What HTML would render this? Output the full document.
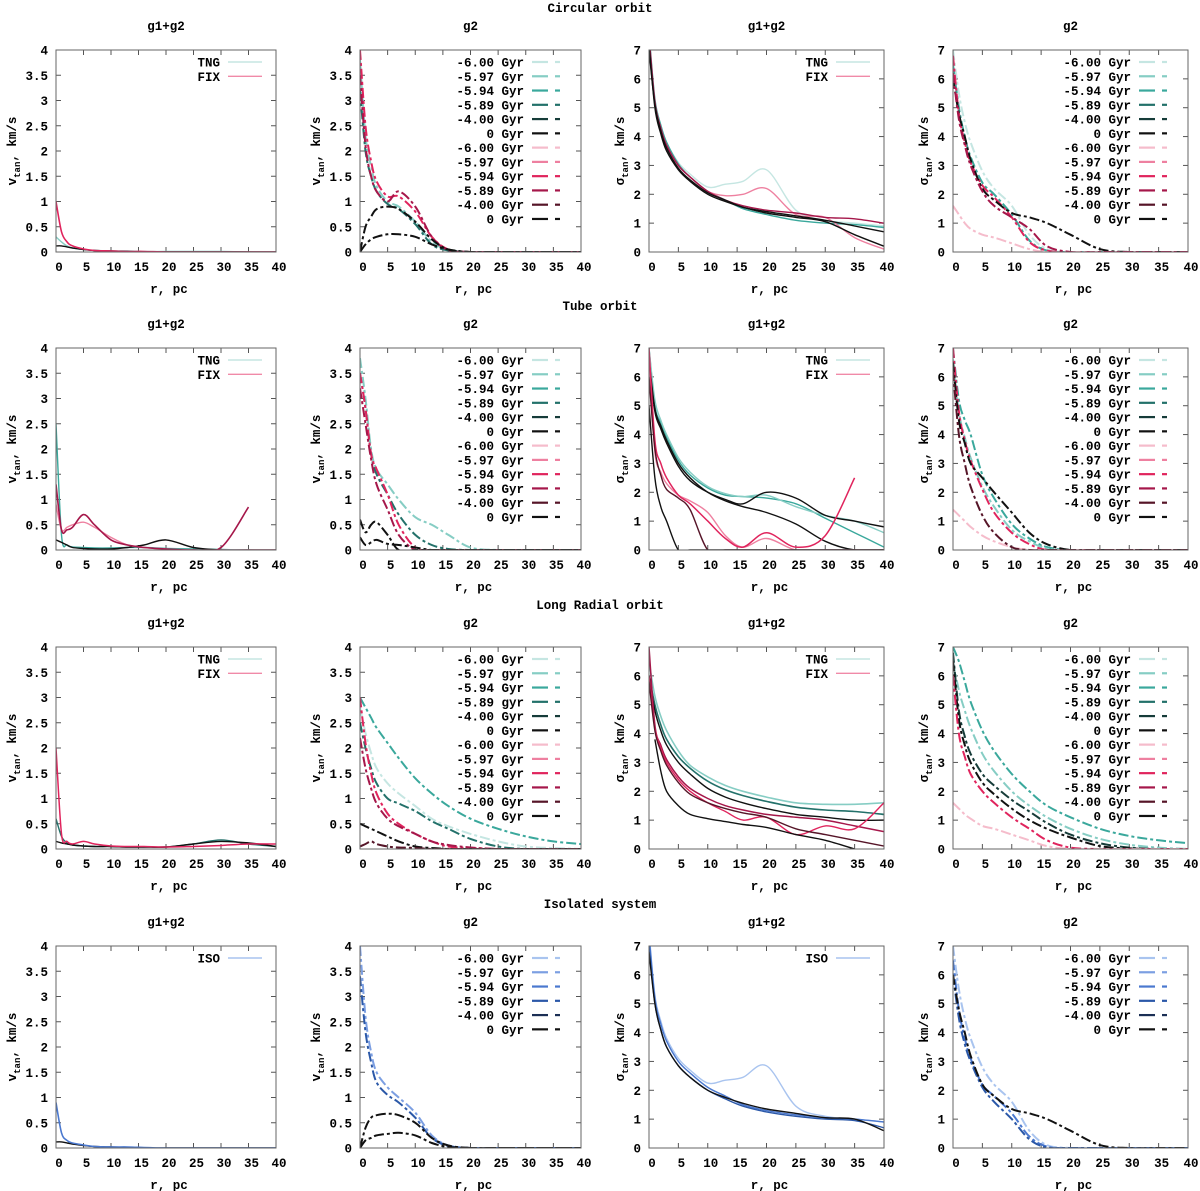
<!DOCTYPE html>
<html><head><meta charset="utf-8"><style>
html,body{margin:0;padding:0;background:#fff}
svg{display:block}
text{font-family:"Liberation Mono","DejaVu Sans Mono",monospace;font-weight:bold;font-size:12.5px;fill:#000}
</style></head><body>
<svg id="fig" width="1200" height="1191" viewBox="0 0 1200 1191" xmlns="http://www.w3.org/2000/svg"></svg>
<script>
// shared radius grid (pc)
const R=[0,1,2,3,5,7,10,13,16,20,25,30,35,40];
const xTicks=[0,5,10,15,20,25,30,35,40];
const vTicks=[0,0.5,1,1.5,2,2.5,3,3.5,4];
const sTicks=[0,1,2,3,4,5,6,7];
const rowTitles=["Circular orbit","Tube orbit","Long Radial orbit","Isolated system"];
const gyrLabels=["-6.00 Gyr","-5.97 Gyr","-5.94 Gyr","-5.89 Gyr","-4.00 Gyr","0 Gyr"];
const gyrLabelsLR=["-6.00 Gyr","-5.97 gyr","-5.94 Gyr","-5.89 gyr","-4.00 Gyr","0 Gyr"];
// ---- Row 1 circular
const c1_fix=[1.0,0.4,0.2,0.12,0.06,0.03,0.02,0.01,0.01,0,0,0,0,0];
const c1_tng=[0.3,0.2,0.12,0.08,0.05,0.03,0.02,0.02,0.01,0.01,0.01,0.01,0,0];
const c1_blk=[0.12,0.12,0.1,0.08,0.05,0.03,0.02,0.01,0,0,0,0,0,0];
const c2_t1=[3.8,2.3,1.7,1.3,1.0,0.9,0.6,0.2,0.05,0,0,0,0,0];
const c2_t2=[3.2,2.0,1.5,1.2,0.95,0.85,0.55,0.15,0.03,0,0,0,0,0];
const c2_p1=[4.0,2.5,1.8,1.4,1.1,1.1,0.8,0.3,0.05,0,0,0,0,0];
const c2_p2=[3.5,2.1,1.5,1.2,1.0,1.2,0.9,0.3,0.04,0,0,0,0,0];
const c2_k1=[0,0.5,0.7,0.85,0.9,0.85,0.6,0.25,0.05,0,0,0,0,0];
const c2_k2=[0,0.15,0.25,0.3,0.35,0.35,0.3,0.15,0.05,0,0,0,0,0];
const c3_t1=[7.5,5.3,4.4,3.8,3.1,2.7,2.25,2.35,2.45,2.85,1.45,1.1,1.0,0.9];
const c3_t2=[7.6,5.3,4.4,3.8,3.05,2.6,2.1,1.8,1.5,1.3,1.1,1.0,0.95,0.85];
const c3_p1=[7.4,5.2,4.3,3.7,3.0,2.6,2.1,1.95,2.0,2.2,1.3,1.2,0.5,0.1];
const c3_p2=[7.5,5.2,4.3,3.7,3.0,2.6,2.1,1.8,1.6,1.45,1.35,1.2,1.15,1.0];
const c3_k1=[7.2,5.0,4.1,3.5,2.85,2.45,2.0,1.75,1.55,1.35,1.2,1.05,0.6,0.2];
const c3_k2=[7.0,5.1,4.2,3.6,2.9,2.5,2.05,1.8,1.55,1.4,1.25,1.1,0.9,0.7];
const c4_t1=[7.0,5.5,4.5,3.8,2.8,2.2,1.6,0.6,0.1,0,0,0,0,0];
const c4_t2=[6.5,5.0,4.0,3.3,2.4,2.0,1.3,0.4,0.05,0,0,0,0,0];
const c4_p1=[6.8,4.8,3.8,3.1,2.3,1.9,1.2,0.35,0.05,0,0,0,0,0];
const c4_p2=[1.6,1.3,1.0,0.8,0.6,0.5,0.3,0.1,0,0,0,0,0,0];
const c4_k1=[6.0,4.8,4.0,3.2,2.2,1.8,1.35,1.2,1.0,0.6,0.1,0,0,0];
const c4_k2=[6.2,4.6,3.7,3.0,2.1,1.6,1.2,0.8,0.2,0,0,0,0,0];
// ---- Row 2 tube
const t1_fix=[1.3,0.4,0.4,0.45,0.7,0.5,0.2,0.1,0.05,0.02,0,0.05,0.85,null];
const t1_fix2=[0.9,0.4,0.45,0.5,0.55,0.45,0.25,0.1,0.05,0.02,0,0,0,0];
const t1_tng=[2.5,0.3,0.1,0.06,0.05,0.04,0.04,0.05,0.05,0.03,0.02,0.01,0,0];
const t1_blk=[0.2,0.15,0.1,0.05,0.03,0.02,0.02,0.05,0.1,0.2,0.05,0,0,0];
const t2_t1=[3.8,3.0,2.0,1.6,1.3,1.0,0.65,0.5,0.3,0.05,0,0,0,0];
const t2_t2=[3.5,2.8,1.9,1.5,1.1,0.7,0.3,0.1,0.02,0,0,0,0,0];
const t2_p1=[3.5,2.8,1.9,1.6,1.1,0.5,0.05,0,0,0,0,0,0,0];
const t2_p2=[3.2,2.5,1.8,1.3,0.8,0.3,0,0,0,0,0,0,0,0];
const t2_k1=[0.6,0.35,0.5,0.55,0.3,0,0,0,0,0,0,0,0,0];
const t2_k2=[0.25,0.1,0.15,0.2,0.12,0.1,0.05,0,0,0,0,0,0,0];
const t3_t1=[7.0,5.0,4.4,3.9,3.1,2.6,2.15,1.9,1.85,1.8,1.6,1.1,0.6,0.1];
const t3_t2=[7.0,5.2,4.5,4.0,3.2,2.7,2.2,1.95,1.85,1.9,1.5,1.2,1.0,0.6];
const t3_k1=[6.5,4.8,4.2,3.7,2.9,2.4,2.0,1.75,1.6,2.0,1.8,1.2,1.0,0.8];
const t3_k2=[6.6,4.9,4.3,3.8,3.0,2.5,2.0,1.7,1.5,1.3,0.9,0.3,0,0];
const t3_p1=[7.0,3.8,3.0,2.5,1.9,1.6,1.0,0.4,0.1,0.6,0.1,0.5,2.5,null];
const t3_p2=[6.5,3.4,2.7,2.3,1.9,1.7,1.3,0.5,0.1,0.4,0,0,0,0];
const t3_d1=[6.0,3.5,2.6,2.1,1.8,1.4,0,0,0,0,0,0,0,0];
const t3_k3=[5.0,2.5,1.5,1.0,0,0,0,0,0,0,0,0,0,0];
const t4_t1=[7.0,5.2,4.5,4.0,2.6,1.8,0.9,0.4,0.1,0,0,0,0,0];
const t4_t2=[6.6,4.8,3.9,3.2,2.2,1.5,0.7,0.3,0.05,0,0,0,0,0];
const t4_p1=[7.0,4.8,3.8,3.1,2.1,1.3,0.6,0.2,0,0,0,0,0,0];
const t4_p2=[1.4,1.2,1.0,0.8,0.5,0.3,0.1,0,0,0,0,0,0,0];
const t4_k1=[6.5,4.5,3.7,3.0,2.5,2.0,1.3,0.6,0.2,0,0,0,0,0];
const t4_k2=[6.2,4.0,3.0,2.2,1.2,0.6,0.1,0,0,0,0,0,0,0];
// ---- Row 3 long radial
const l1_fix=[2.0,0.3,0.15,0.1,0.15,0.1,0.06,0.05,0.05,0.04,0.05,0.07,0.1,0.1];
const l1_tng=[0.6,0.25,0.12,0.08,0.06,0.05,0.05,0.04,0.04,0.04,0.1,0.18,0.1,0.05];
const l1_blk=[0.15,0.12,0.1,0.08,0.06,0.05,0.05,0.04,0.04,0.04,0.1,0.15,0.12,0.05];
const l2_t1=[3.0,2.8,2.6,2.4,2.1,1.8,1.4,1.1,0.85,0.6,0.4,0.25,0.15,0.1];
const l2_t2=[2.8,2.3,1.9,1.6,1.3,1.1,0.85,0.6,0.45,0.3,0.15,0.05,0.02,0];
const l2_t3=[2.5,2.0,1.6,1.3,1.0,0.9,0.75,0.55,0.4,0.2,0.05,0,0,0];
const l2_p1=[3.0,2.1,1.5,1.1,0.7,0.5,0.3,0.15,0.05,0.02,0,0,0,0];
const l2_p2=[2.2,1.6,1.2,0.9,0.6,0.45,0.3,0.15,0.08,0.03,0,0,0,0];
const l2_k1=[0.5,0.45,0.4,0.35,0.25,0.15,0.05,0.02,0,0,0,0,0,0];
const l2_k2=[0.05,0.1,0.15,0.1,0.05,0.03,0.02,0,0,0,0,0,0,0];
const l3_t1=[6.5,5.3,4.6,4.1,3.4,2.9,2.5,2.2,2.0,1.8,1.6,1.55,1.55,1.6];
const l3_t2=[6.0,5.0,4.3,3.8,3.2,2.8,2.35,2.05,1.85,1.65,1.45,1.35,1.3,1.2];
const l3_k1=[6.0,4.8,4.1,3.6,3.0,2.6,2.1,1.8,1.6,1.4,1.2,1.1,1.0,1.0];
const l3_p1=[7.0,4.3,3.6,3.1,2.5,2.1,1.75,1.5,1.35,1.2,1.1,1.0,0.8,0.6];
const l3_p2=[6.0,4.2,3.5,3.0,2.4,2.0,1.6,1.3,1.0,1.1,0.5,0.8,0.7,1.6];
const l3_d1=[5.8,4.1,3.4,2.9,2.3,1.9,1.6,1.4,1.25,1.1,0.7,0.5,0.3,0.1];
const l3_k2=[null,3.8,2.7,2.0,1.5,1.2,1.05,0.95,0.85,0.75,0.5,0.3,0,null];
const l4_t1=[7.0,6.5,5.8,5.1,4.1,3.4,2.6,2.0,1.5,1.1,0.7,0.45,0.3,0.2];
const l4_t2=[6.5,5.5,4.8,4.2,3.3,2.7,2.0,1.5,1.1,0.7,0.35,0.15,0.05,0];
const l4_k1=[6.5,4.5,3.6,3.0,2.3,1.9,1.4,1.0,0.7,0.4,0.1,0.02,0,0];
const l4_p1=[6.0,4.0,3.2,2.6,2.0,1.6,1.1,0.7,0.3,0.05,0,0,0,0];
const l4_p2=[1.6,1.4,1.2,1.05,0.8,0.7,0.5,0.3,0.1,0,0,0,0,0];
const l4_k2=[6.8,4.8,3.9,3.3,2.6,2.2,1.7,1.3,0.9,0.5,0.2,0.05,0,0];
// ---- Row 4 isolated
const i1_iso=[0.9,0.3,0.15,0.1,0.06,0.03,0.02,0.02,0.01,0,0,0,0,0];
const i1_blk=[0.12,0.12,0.1,0.08,0.05,0.03,0.02,0.01,0,0,0,0,0,0];
const i2_b1=[4.0,2.6,1.9,1.5,1.2,1.0,0.7,0.25,0.05,0,0,0,0,0];
const i2_b2=[3.4,2.3,1.7,1.3,1.05,0.9,0.6,0.2,0.04,0,0,0,0,0];
const i2_k1=[0,0.4,0.6,0.65,0.68,0.65,0.5,0.2,0.05,0,0,0,0,0];
const i2_k2=[0,0.15,0.2,0.25,0.28,0.3,0.25,0.1,0.02,0,0,0,0,0];
const i3_b1=[7.5,5.3,4.4,3.8,3.1,2.7,2.25,2.35,2.45,2.85,1.45,1.1,1.0,0.9];
const i3_b2=[7.4,5.2,4.3,3.7,3.0,2.6,2.1,1.8,1.5,1.3,1.15,1.05,1.0,0.9];
const i3_b3=[7.0,5.0,4.1,3.5,2.85,2.45,2.0,1.7,1.45,1.25,1.1,1.0,0.95,0.7];
const i3_k1=[6.8,5.0,4.1,3.5,2.85,2.45,2.0,1.75,1.55,1.35,1.2,1.05,1.0,0.6];
const i4_b1=[7.0,5.5,4.5,3.8,2.8,2.2,1.6,0.6,0.1,0,0,0,0,0];
const i4_b2=[6.5,4.8,3.8,3.1,2.2,1.8,1.2,0.4,0.05,0,0,0,0,0];
const i4_b3=[6.0,4.5,3.6,3.0,2.1,1.6,1.0,0.3,0.02,0,0,0,0,0];
const i4_k1=[6.0,4.8,4.0,3.2,2.2,1.8,1.35,1.2,1.0,0.6,0.1,0,0,0];

const TEAL=['#c5e6e2','#86cdc4','#3aa89c','#23716a','#163c39','#111'];
const PINK=['#f5bccb','#ee80a0','#e0245d','#a5174a','#561528','#111'];
const BLUE=['#a9c4ef','#7c9fe2','#4a78cf','#2b58a8','#1b2f55','#111'];
const DD='10,3,3,3';
const colX=[[56,276],[360,581],[649,884],[953,1188]];
const rowY=[50,348,647,946];
const PH=202;
const svg=document.getElementById('fig');
const NS='http://www.w3.org/2000/svg';
function mk(tag,attrs,parent){const e=document.createElementNS(NS,tag);for(const k in attrs)e.setAttribute(k,attrs[k]);(parent||svg).appendChild(e);return e;}

const panels=[
 {row:0,col:0,ymax:4,ylab:'v',title:'g1+g2',legend:'tngfix',series:[
  [c1_tng,TEAL[1],null,1.4],[c1_blk,'#111',null,1.4],[c1_fix,PINK[2],null,1.6]]},
 {row:0,col:1,ymax:4,ylab:'v',title:'g2',legend:'gyr12',series:[
  [c2_t1,TEAL[1],DD,2],[c2_t2,TEAL[3],DD,2],[c2_p1,PINK[2],DD,2],[c2_p2,PINK[3],DD,2],[c2_k1,'#111',DD,2],[c2_k2,'#111',DD,2]]},
 {row:0,col:2,ymax:7,ylab:'s',title:'g1+g2',legend:'tngfix',series:[
  [c3_t1,TEAL[0],null,1.4],[c3_t2,TEAL[2],null,1.4],[c3_p1,PINK[1],null,1.4],[c3_p2,PINK[3],null,1.4],[c3_k1,'#111',null,1.4],[c3_k2,'#111',null,1.4]]},
 {row:0,col:3,ymax:7,ylab:'s',title:'g2',legend:'gyr12',series:[
  [c4_t1,TEAL[0],DD,2],[c4_t2,TEAL[2],DD,2],[c4_p1,PINK[2],DD,2],[c4_p2,PINK[0],DD,2],[c4_k1,'#111',DD,2],[c4_k2,PINK[3],DD,2]]},
 {row:1,col:0,ymax:4,ylab:'v',title:'g1+g2',legend:'tngfix',series:[
  [t1_tng,TEAL[2],null,1.4],[t1_blk,'#111',null,1.4],[t1_fix2,PINK[1],null,1.4],[t1_fix,PINK[3],null,1.6]]},
 {row:1,col:1,ymax:4,ylab:'v',title:'g2',legend:'gyr12',series:[
  [t2_t1,TEAL[1],DD,2],[t2_t2,TEAL[3],DD,2],[t2_p1,PINK[2],DD,2],[t2_p2,PINK[3],DD,2],[t2_k1,'#111',DD,2],[t2_k2,'#111',DD,2]]},
 {row:1,col:2,ymax:7,ylab:'s',title:'g1+g2',legend:'tngfix',series:[
  [t3_t1,TEAL[2],null,1.4],[t3_t2,TEAL[1],null,1.4],[t3_k1,'#111',null,1.4],[t3_k2,'#111',null,1.4],[t3_p2,PINK[1],null,1.4],[t3_p1,PINK[2],null,1.5],[t3_d1,PINK[4],null,1.4],[t3_k3,'#111',null,1.4]]},
 {row:1,col:3,ymax:7,ylab:'s',title:'g2',legend:'gyr12',series:[
  [t4_t1,TEAL[2],DD,2],[t4_t2,TEAL[1],DD,2],[t4_p1,PINK[2],DD,2],[t4_p2,PINK[0],DD,2],[t4_k1,'#111',DD,2],[t4_k2,PINK[4],DD,2]]},
 {row:2,col:0,ymax:4,ylab:'v',title:'g1+g2',legend:'tngfix',series:[
  [l1_tng,TEAL[3],null,1.4],[l1_blk,'#111',null,1.4],[l1_fix,PINK[2],null,1.5]]},
 {row:2,col:1,ymax:4,ylab:'v',title:'g2',legend:'gyr12lr',series:[
  [l2_t1,TEAL[2],DD,2],[l2_t2,TEAL[0],DD,2],[l2_t3,TEAL[3],DD,2],[l2_p1,PINK[2],DD,2],[l2_p2,PINK[3],DD,2],[l2_k1,'#111',DD,2],[l2_k2,PINK[4],DD,2]]},
 {row:2,col:2,ymax:7,ylab:'s',title:'g1+g2',legend:'tngfix',series:[
  [l3_t1,TEAL[1],null,1.6],[l3_t2,TEAL[3],null,1.6],[l3_k1,'#111',null,1.4],[l3_p1,PINK[3],null,1.5],[l3_p2,PINK[2],null,1.4],[l3_d1,PINK[4],null,1.4],[l3_k2,'#111',null,1.4]]},
 {row:2,col:3,ymax:7,ylab:'s',title:'g2',legend:'gyr12',series:[
  [l4_t1,TEAL[2],DD,2],[l4_t2,TEAL[1],DD,2],[l4_k2,TEAL[4],DD,2],[l4_k1,'#111',DD,2],[l4_p1,PINK[2],DD,2],[l4_p2,PINK[0],DD,2]]},
 {row:3,col:0,ymax:4,ylab:'v',title:'g1+g2',legend:'iso',series:[
  [i1_blk,'#111',null,1.4],[i1_iso,BLUE[2],null,1.6]]},
 {row:3,col:1,ymax:4,ylab:'v',title:'g2',legend:'gyr6',series:[
  [i2_b1,BLUE[1],DD,2],[i2_b2,BLUE[3],DD,2],[i2_k1,'#111',DD,2],[i2_k2,'#111',DD,2]]},
 {row:3,col:2,ymax:7,ylab:'s',title:'g1+g2',legend:'iso',series:[
  [i3_b1,BLUE[0],null,1.4],[i3_b2,BLUE[2],null,1.4],[i3_b3,BLUE[3],null,1.4],[i3_k1,'#111',null,1.4]]},
 {row:3,col:3,ymax:7,ylab:'s',title:'g2',legend:'gyr6',series:[
  [i4_b1,BLUE[0],DD,2],[i4_b2,BLUE[2],DD,2],[i4_b3,BLUE[3],DD,2],[i4_k1,'#111',DD,2]]}
];

rowTitles.forEach((t,i)=>{
  const e=mk('text',{x:600,y:rowY[i]-38,'text-anchor':'middle'});
  e.textContent=t;
  
  
});

function splinePath(xs,ys){
  let d='';
  for(let i=0;i<xs.length;i++){
    if(i===0){d+='M'+xs[0]+','+ys[0];continue;}
    const p0=[xs[Math.max(0,i-2)],ys[Math.max(0,i-2)]],p1=[xs[i-1],ys[i-1]],p2=[xs[i],ys[i]],p3=[xs[Math.min(xs.length-1,i+1)],ys[Math.min(xs.length-1,i+1)]];
    const c1=[p1[0]+(p2[0]-p0[0])/6,p1[1]+(p2[1]-p0[1])/6];
    const c2=[p2[0]-(p3[0]-p1[0])/6,p2[1]-(p3[1]-p1[1])/6];
    d+=' C'+c1[0].toFixed(1)+','+c1[1].toFixed(1)+' '+c2[0].toFixed(1)+','+c2[1].toFixed(1)+' '+p2[0].toFixed(1)+','+p2[1].toFixed(1);
  }
  return d;
}

panels.forEach((p,pi)=>{
  const x0=colX[p.col][0],x1=colX[p.col][1],y0=rowY[p.row],y1=y0+PH;
  const xs=v=>x0+(v/40)*(x1-x0);
  const ys=v=>y1-(v/p.ymax)*PH;
  const g=mk('g',{});
  
  
  const t=mk('text',{x:(x0+x1)/2,y:y0-20,'text-anchor':'middle'},g);t.textContent=p.title;
  
  
  const cid='clip'+pi;
  const cp=mk('clipPath',{id:cid},g);mk('rect',{x:x0,y:y0,width:x1-x0,height:PH},cp);
  xTicks.forEach(v=>{
    const X=xs(v);
    mk('line',{x1:X,y1:y1,x2:X,y2:y1-5,stroke:'#555','stroke-width':1},g);
    mk('line',{x1:X,y1:y0,x2:X,y2:y0+5,stroke:'#555','stroke-width':1},g);
    const tl=mk('text',{x:X+3,y:y1+19,'text-anchor':'middle'},g);tl.textContent=v;
    
    
  });
  const yt=p.ymax===4?vTicks:sTicks;
  yt.forEach(v=>{
    const Y=ys(v);
    mk('line',{x1:x0,y1:Y,x2:x0+5,y2:Y,stroke:'#555','stroke-width':1},g);
    mk('line',{x1:x1,y1:Y,x2:x1-5,y2:Y,stroke:'#555','stroke-width':1},g);
    const tl=mk('text',{x:x0-8,y:Y+4.5,'text-anchor':'end'},g);tl.textContent=v;
    
    
  });
  const xl=mk('text',{x:(x0+x1)/2+3,y:y1+41,'text-anchor':'middle'},g);xl.textContent='r, pc';
  
  
  const lx=p.ymax===4?x0-40:x0-25;
  const yl=mk('text',{x:0,y:0,'text-anchor':'middle',transform:'translate('+lx+','+(y0+PH/2)+') rotate(-90)'},g);
  
  
  yl.innerHTML=(p.ylab==='v'?'v':'σ')+'<tspan font-size="9" dy="4">tan</tspan><tspan dy="-4">, km/s</tspan>';
  const sg=mk('g',{'clip-path':'url(#'+cid+')'},g);
  p.series.forEach((s,si)=>{
    const vals=s[0];let segX=[],segY=[];
    const flush=()=>{if(segX.length>1){const path=mk('path',{d:splinePath(segX,segY),fill:'none',stroke:s[1],'stroke-width':s[3],'stroke-dasharray':s[2]||'none','stroke-linejoin':'round'},sg);
      
      }segX=[];segY=[];};
    vals.forEach((v,i)=>{if(v===null){flush();}else{segX.push(xs(R[i]));segY.push(ys(v));}});
    flush();
  });
  mk('rect',{x:x0,y:y0,width:x1-x0,height:PH,fill:'none',stroke:'#666','stroke-width':1},g);
  let entries=[];
  if(p.legend==='tngfix')entries=[['TNG',TEAL[0],null],['FIX','#f08aa8',null]];
  else if(p.legend==='iso')entries=[['ISO',BLUE[0],null]];
  else if(p.legend==='gyr12'||p.legend==='gyr12lr'){const L=p.legend==='gyr12'?gyrLabels:gyrLabelsLR;L.forEach((l,i)=>entries.push([l,TEAL[i],'d']));gyrLabels.forEach((l,i)=>entries.push([l,PINK[i],'d']));}
  else if(p.legend==='gyr6')gyrLabels.forEach((l,i)=>entries.push([l,BLUE[i],'d']));
  const lg=mk('g',{},g);
  
  
  entries.forEach((e,i)=>{
    const Y=y0+12+i*14.27;
    if(e[2]){
      const tx=mk('text',{x:x1-57,y:Y+4.5,'text-anchor':'end'},lg);tx.textContent=e[0];
      
      
      mk('line',{x1:x1-49,y1:Y,x2:x1-33,y2:Y,stroke:e[1],'stroke-width':2.2},lg);
      mk('line',{x1:x1-26,y1:Y,x2:x1-21,y2:Y,stroke:e[1],'stroke-width':2.2},lg);
    }else{
      const tx=mk('text',{x:x1-56,y:Y+4.5,'text-anchor':'end'},lg);tx.textContent=e[0];
      
      
      mk('line',{x1:x1-48,y1:Y,x2:x1-14,y2:Y,stroke:e[1],'stroke-width':1.4},lg);
    }
  });
});
</script>
</body></html>
